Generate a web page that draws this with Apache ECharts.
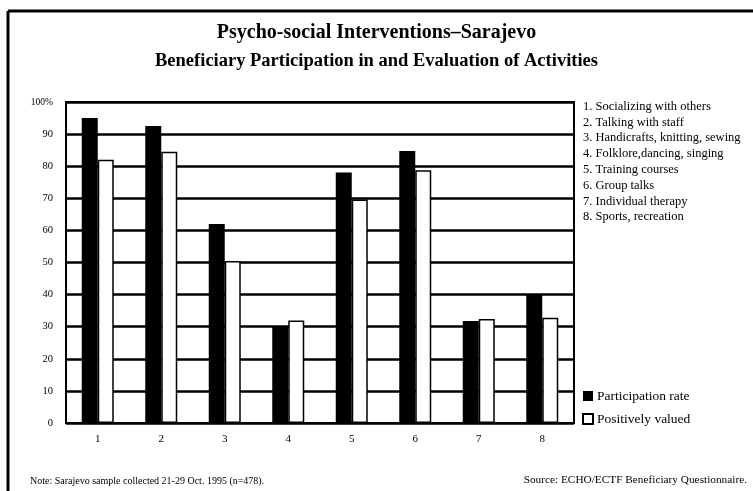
<!DOCTYPE html>
<html>
<head>
<meta charset="utf-8">
<script src="https://cdn.jsdelivr.net/npm/echarts@6/dist/echarts.min.js"></script>
<style>html,body{margin:0;padding:0;background:#fff}#c{width:753px;height:491px}</style>
</head>
<body>
<div id="c"></div>
<script>
const categories = ['1','2','3','4','5','6','7','8'];
const activityNames = ['Socializing with others','Talking with staff','Handicrafts, knitting, sewing','Folklore,dancing, singing','Training courses','Group talks','Individual therapy','Sports, recreation'];
const participation = [95, 92.5, 62, 30, 78, 84.7, 31.8, 40];
const positivelyValued = [82, 84.5, 50.5, 31.9, 69.6, 78.7, 32.4, 32.8];
const yTicks = [0,10,20,30,40,50,60,70,80,90,100];

const FONT = '"Liberation Serif", "DejaVu Serif", serif';
const chart = echarts.init(document.getElementById('c'), null, {renderer:'canvas'});

const legendTexts = activityNames.map((n, i) => ({
  type: 'text', left: 583, top: 100 + i * 15.8,
  style: { text: categories[i] + '. ' + n, font: '12.5px ' + FONT, fill: '#000' }
}));

chart.setOption({
  animation: false,
  backgroundColor: '#fff',
  title: {
    text: 'Psycho-social Interventions\u2013Sarajevo',
    subtext: 'Beneficiary Participation in and Evaluation of Activities',
    left: 'center', top: 18, itemGap: 9,
    textStyle: { fontFamily: FONT, fontSize: 20, fontWeight: 'bold', color: '#000' },
    subtextStyle: { fontFamily: FONT, fontSize: 18.5, fontWeight: 'bold', color: '#000' }
  },
  legend: {
    orient: 'vertical', left: 582, top: 389, padding: 0, itemWidth: 10, itemHeight: 10, itemGap: 9,
    icon: 'rect',
    textStyle: { fontFamily: FONT, fontSize: 13.5, color: '#000', padding: [0, 0, 0, -1] },
    data: ['Participation rate', 'Positively valued']
  },
  grid: { left: 66, right: 179, top: 102, bottom: 68, show: true, borderColor: '#000', borderWidth: 2, backgroundColor: 'transparent' },
  xAxis: {
    type: 'category', data: categories,
    axisLine: { lineStyle: { color: '#000', width: 2 } },
    axisTick: { show: false },
    axisLabel: { fontFamily: FONT, fontSize: 11, color: '#000', margin: 11 }
  },
  yAxis: {
    type: 'value', min: yTicks[0], max: yTicks[yTicks.length - 1], interval: 10,
    axisLine: { show: false }, axisTick: { show: false },
    axisLabel: { fontFamily: FONT, fontSize: 10.5, color: '#000', margin: 13,
      formatter: v => v === 100 ? '{p|100%}' : String(v),
      rich: { p: { fontFamily: FONT, fontSize: 9.5, color: '#000' } } },
    splitLine: { lineStyle: { color: '#000', width: 2.5 } }
  },
  series: [
    { name: 'Participation rate', type: 'bar', data: participation, barWidth: 16, barGap: '0%',
      itemStyle: { color: '#000', borderColor: '#000', borderWidth: 0 } },
    { name: 'Positively valued', type: 'bar', data: positivelyValued, barWidth: 16,
      itemStyle: { color: '#fff', borderColor: '#000', borderWidth: 1.5 } }
  ],
  graphic: [
    { type: 'line', shape: { x1: 8, y1: 11, x2: 753, y2: 11 }, style: { stroke: '#000', lineWidth: 3 } },
    { type: 'line', shape: { x1: 8, y1: 11, x2: 8, y2: 491 }, style: { stroke: '#000', lineWidth: 3 } },
    ...legendTexts,
    { type: 'text', left: 30, top: 476, style: { text: 'Note: Sarajevo sample collected 21-29 Oct. 1995 (n=478).', font: '10px ' + FONT, fill: '#000' } },
    { type: 'text', right: 6, top: 475, style: { text: 'Source: ECHO/ECTF Beneficiary Questionnaire.', font: '11.3px ' + FONT, fill: '#000' } }
  ]
});
</script>
</body>
</html>
